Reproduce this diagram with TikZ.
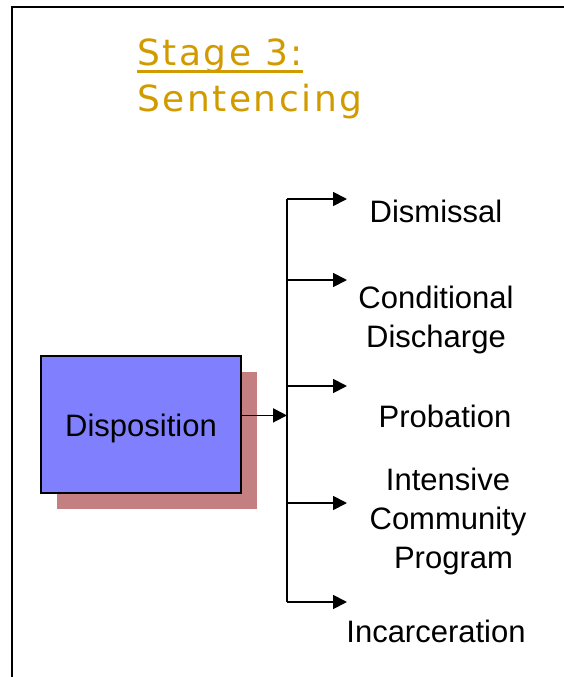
\documentclass[tikz,border=0pt]{standalone}
\usepackage{fontspec}
\setmainfont{Liberation Sans}
\newfontfamily\titlefont[LetterSpace=7]{DejaVu Sans}
\usepackage{tikz}
\usetikzlibrary{arrows.meta,shadows}
\usepackage{xcolor}
\definecolor{stagegold}{RGB}{209,155,0}
\definecolor{boxblue}{RGB}{128,128,255}
\definecolor{shadowrose}{RGB}{196,128,128}
\tikzstyle{arrow} = [line width=1.8pt,-{Triangle[length=14pt,width=14pt]}]
\tikzstyle{outcome} = [inner sep=0pt, align=center, font=\fontsize{31}{39}\selectfont]

\begin{document}
\begin{tikzpicture}[x=1pt, y=-1pt]
    \useasboundingbox (0,0) rectangle (564,677);

    % Frame
    \draw[line width=2.4pt] (12,677) -- (12,7) -- (564,7);

    % Title
    \node[anchor=base west, inner sep=0pt, text=stagegold, font=\titlefont\fontsize{36}{43}\selectfont] (stagetitle) at (137,66) {Stage 3:};
    \node[anchor=base west, inner sep=0pt, text=stagegold, font=\titlefont\fontsize{36}{43}\selectfont] (sentencetitle) at (137,111) {Sentencing};
    \draw[stagegold, line width=2.2pt] ([yshift=-5.5pt]stagetitle.base west) -- ([yshift=-5.5pt]stagetitle.base east);

    % Disposition box
    \node[draw, line width=1.5pt, fill=boxblue, minimum width=200pt, minimum height=137pt,
          text height=31pt, text depth=6pt, font=\fontsize{31}{39}\selectfont,
          drop shadow={shadow xshift=16pt, shadow yshift=-16pt, fill=shadowrose, opacity=1}]
          (disposition) at (141,424.4) {Disposition};

    % Bar
    \coordinate (bartop) at (287,199);
    \coordinate (barbottom) at (287,602);
    \draw[line width=1.8pt] (bartop) -- (barbottom);
    \draw[arrow] ([yshift=9pt]disposition.east) -- ([yshift=9pt]disposition.east -| bartop);

    % Branches
    \foreach \name/\y in {dismissal/199, conditional/280, probation/386, intensive/503, incarceration/602} {
        \coordinate (from\name) at (287,\y);
        \coordinate (to\name) at (347,\y);
        \draw[arrow] (from\name) -- (to\name);
    }

    % Outcomes (base = last line)
    \node[outcome, anchor=base] (dismissal) at (436,222) {Dismissal};
    \node[outcome, anchor=base] (conditional) at (436,347) {Conditional\\Discharge};
    \node[outcome, anchor=base] (probation) at (445,427) {Probation};
    \node[outcome, anchor=base] (intensive) at (448,568) {Intensive\\Community\\\hspace*{11pt}Program};
    \node[outcome, anchor=base] (incarceration) at (436,642) {Incarceration};
\end{tikzpicture}
\end{document}
